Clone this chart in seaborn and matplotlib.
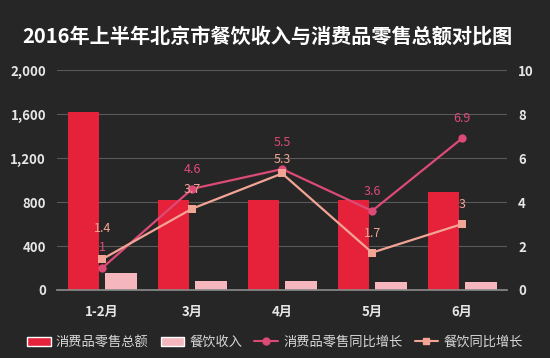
import numpy as np
import pandas as pd
import seaborn as sns
import matplotlib.pyplot as plt
from matplotlib.patches import Patch
from matplotlib.lines import Line2D

months = ["1-2月", "3月", "4月", "5月", "6月"]
retail_total = [1620, 820, 820, 820, 890]      # 消费品零售总额
catering_income = [150, 80, 80, 72, 76]        # 餐饮收入
retail_growth = [1.0, 4.6, 5.5, 3.6, 6.9]      # 消费品零售同比增长
catering_growth = [1.4, 3.7, 5.3, 1.7, 3.0]    # 餐饮同比增长
retail_labels = ["1", "4.6", "5.5", "3.6", "6.9"]
catering_labels = ["1.4", "3.7", "5.3", "1.7", "3"]

bg = "#262626"
red = "#e6223b"
pink = "#f6b6bd"
line_red = "#dc4a76"
line_pink = "#f2a595"

sns.set_theme(style="dark")
plt.rcParams["font.family"] = ["Noto Sans CJK SC", "DejaVu Sans"]

bars = pd.DataFrame({
    "月份": months * 2,
    "值": retail_total + catering_income,
    "类别": ["消费品零售总额"] * 5 + ["餐饮收入"] * 5,
})

fig = plt.figure(figsize=(5.5, 3.58), dpi=100, facecolor=bg)
ax = fig.add_axes([0.104, 0.19, 0.818, 0.614])
ax.set_facecolor(bg)

sns.barplot(data=bars, x="月份", y="值", hue="类别", palette=[red, pink],
            width=0.84, gap=0.17, saturation=1, legend=False,
            edgecolor="none", linewidth=0, ax=ax)
ax.set_xlim(-0.5, 4.5)
ax.set_ylim(0, 2000)
ax.set_yticks([0, 400, 800, 1200, 1600, 2000])
ax.set_yticklabels(["0", "400", "800", "1,200", "1,600", "2,000"])
ax.set_xlabel("")
ax.set_ylabel("")
ax.grid(axis="y", color="#5a5a5a", linewidth=0.8)
ax.set_axisbelow(True)
for s in ["top", "right", "left"]:
    ax.spines[s].set_visible(False)
ax.spines["bottom"].set_color("#888888")
ax.tick_params(axis="y", colors="#e6e6e6", labelsize=9.5, length=0, pad=8)
ax.tick_params(axis="x", colors="#e6e6e6", labelsize=9.5, length=0, pad=11)
for t in ax.get_xticklabels() + ax.get_yticklabels():
    t.set_fontweight("bold")

ax2 = ax.twinx()
x = np.arange(len(months))
sns.lineplot(x=x, y=retail_growth, color=line_red, marker="o", markersize=6,
             markeredgewidth=0, linewidth=1.6, ax=ax2)
sns.lineplot(x=x, y=catering_growth, color=line_pink, marker="s", markersize=6,
             markeredgewidth=0, linewidth=1.6, ax=ax2)
ax2.set_ylim(0, 10)
ax2.set_yticks([0, 2, 4, 6, 8, 10])
ax2.grid(False)
for s in ax2.spines.values():
    s.set_visible(False)
ax2.tick_params(axis="y", colors="#e6e6e6", labelsize=9.5, length=0, pad=8)
for t in ax2.get_yticklabels():
    t.set_fontweight("bold")

# label offsets (points) so the close pairs don't collide
retail_off = [15, 14, 19, 14, 14]
catering_off = [22, 14, 10, 14, 14]
for i in range(len(months)):
    ax2.annotate(retail_labels[i], (x[i], retail_growth[i]), xytext=(0, retail_off[i]),
                 textcoords="offset points", ha="center", va="center",
                 color=line_red, fontsize=9, zorder=5)
    ax2.annotate(catering_labels[i], (x[i], catering_growth[i]), xytext=(0, catering_off[i]),
                 textcoords="offset points", ha="center", va="center",
                 color=line_pink, fontsize=9, zorder=5)

fig.text(0.487, 0.9, "2016年上半年北京市餐饮收入与消费品零售总额对比图",
         ha="center", va="center", color="white", fontsize=14.5, fontweight="bold")

handles = [
    Patch(facecolor=red, label="消费品零售总额"),
    Patch(facecolor=pink, label="餐饮收入"),
    Line2D([], [], color=line_red, marker="o", markersize=5, label="消费品零售同比增长"),
    Line2D([], [], color=line_pink, marker="s", markersize=5, label="餐饮同比增长"),
]
fig.legend(handles=handles, loc="center", bbox_to_anchor=(0.5, 0.043), ncol=4,
           frameon=False, fontsize=9.5, labelcolor="#d8d8d8", handlelength=1.8,
           handletextpad=0.4, columnspacing=0.9)

fig.savefig("out.png", dpi=100, facecolor=bg)
